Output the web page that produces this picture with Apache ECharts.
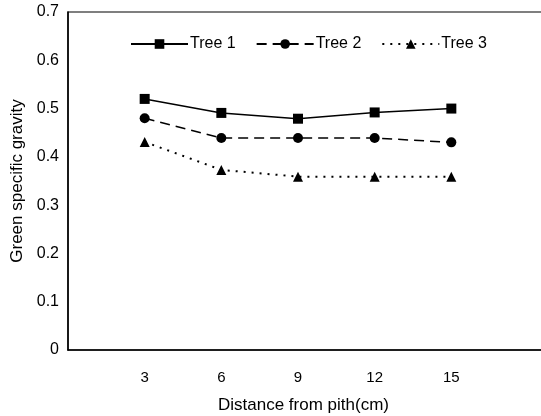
<!DOCTYPE html>
<html><head><meta charset="utf-8">
<script src="https://cdn.jsdelivr.net/npm/echarts@6/dist/echarts.min.js"></script>
<style>html,body{margin:0;padding:0;background:#fff}#c{width:541px;height:416px}</style>
</head><body><div id="c"></div>
<script>
const distances = [3, 6, 9, 12, 15];
const tree1 = [0.52, 0.491, 0.479, 0.492, 0.50];
const tree2 = [0.48, 0.439, 0.439, 0.439, 0.43];
const tree3 = [0.431, 0.373, 0.359, 0.359, 0.359];
const yTicks = [0, 0.1, 0.2, 0.3, 0.4, 0.5, 0.6, 0.7];
const seriesNames = ['Tree 1', 'Tree 2', 'Tree 3'];

const font = 'Liberation Sans, Arial, sans-serif';
const chart = echarts.init(document.getElementById('c'));
function pts(v){ return distances.map((d,i)=>[d, v[i]]); }
chart.setOption({
  animation: false,
  grid: {left: 68, right: -10, top: 12, bottom: 66, show: true, borderColor: '#000', borderWidth: 1.2,
    containLabel: false, outerBoundsMode: 'none'},
  legend: {
    top: 31, left: 125, itemWidth: 57, itemHeight: 12, itemGap: 20,
    textStyle: {fontFamily: font, fontSize: 16, color: '#000', padding: [0,0,0,-3]},
    data: seriesNames
  },
  xAxis: {
    type: 'value', min: 0, max: 18.9, interval: 3,
    axisLine: {show: true, lineStyle: {color: '#000', width: 1.5}},
    axisTick: {show: false}, splitLine: {show: false},
    axisLabel: {fontFamily: font, fontSize: 15, color: '#000', margin: 20, showMaxLabel: false,
      formatter: v => distances.includes(v) ? String(v) : ''},
    name: 'Distance from pith(cm)', nameLocation: 'middle', nameGap: 47,
    nameTextStyle: {fontFamily: font, fontSize: 17, color: '#000', padding: [0,12,0,0]}
  },
  yAxis: {
    type: 'value', min: 0, max: 0.7, interval: 0.1,
    axisLine: {show: true, lineStyle: {color: '#000', width: 1.5}},
    axisTick: {show: false}, splitLine: {show: false},
    axisLabel: {fontFamily: font, fontSize: 16, color: '#000', margin: 9,
      formatter: v => { const t = yTicks.find(y => Math.abs(y - v) < 1e-9); return t === undefined ? '' : String(t); }},
    name: 'Green specific gravity', nameLocation: 'middle', nameGap: 42, nameRotate: 90,
    nameTextStyle: {fontFamily: font, fontSize: 17, color: '#000'}
  },
  series: [
    {name: seriesNames[0], type: 'line', data: pts(tree1), symbol: 'rect', symbolSize: 10,
      lineStyle: {color: '#000', width: 1.5, type: 'solid'}, itemStyle: {color: '#000'}},
    {name: seriesNames[1], type: 'line', data: pts(tree2), symbol: 'circle', symbolSize: 10,
      lineStyle: {color: '#000', width: 1.5, type: [10, 6]}, itemStyle: {color: '#000'}},
    {name: seriesNames[2], type: 'line', data: pts(tree3), symbol: 'triangle', symbolSize: 10,
      lineStyle: {color: '#000', width: 2, type: [2, 6]}, itemStyle: {color: '#000'}}
  ]
});
</script></body></html>
